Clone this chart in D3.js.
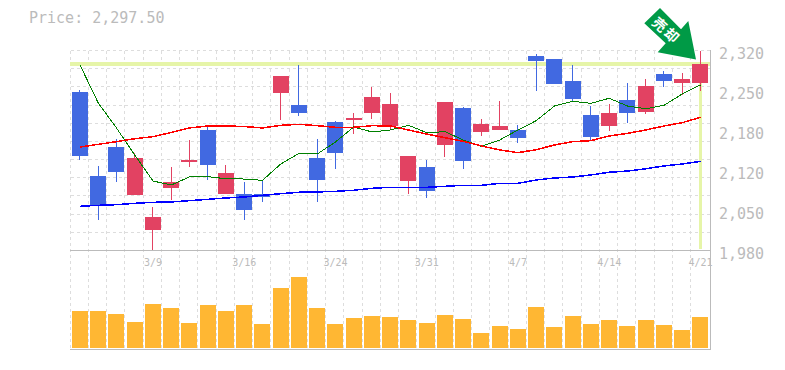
<!DOCTYPE html>
<html>
<head>
<meta charset="utf-8">
<script src="https://cdn.jsdelivr.net/npm/d3@7"></script>
<style>
html, body { margin: 0; padding: 0; background: #fff; }
svg { display: block; }
text { font-family: "DejaVu Sans Mono", monospace; fill: #bbb; }
.grid line { stroke: #ddd; stroke-dasharray: 3 3; shape-rendering: crispEdges; }
.ma { fill: none; shape-rendering: crispEdges; }
</style>
</head>
<body>
<div id="chart"></div>
<script>
const ancho = 785
const alto = 370

const dates = ["3/3","3/4","3/7","3/8","3/9","3/10","3/11","3/14","3/15","3/16","3/17","3/18","3/22","3/23","3/24","3/25","3/28","3/29","3/30","3/31","4/1","4/4","4/5","4/6","4/7","4/8","4/11","4/12","4/13","4/14","4/15","4/18","4/19","4/20","4/21"]
const dateTicks = ["3/9","3/16","3/24","3/31","4/7","4/14","4/21"]
const priceTicks = [2320, 2252, 2184, 2116, 2048, 1980]
const lastPrice = 2297.5

const opens = [2249.4,2106.7,2156,2074.4,2014.9,2086.3,2130.5,2184.9,2076,2076,2076,2247.8,2227.4,2137.3,2198.5,2201.9,2213.8,2191.7,2098.1,2122,2159.4,2222.2,2181.5,2184.9,2184.9,2310.6,2305.6,2268.2,2210.4,2191.7,2235.9,2215.4,2280,2264.8,2264.8]
const highs = [2252.3,2123.7,2169.6,2145.2,2054,2122,2167.9,2191.6,2125.4,2096.5,2099.9,2276.6,2295.4,2169.6,2200.2,2213.8,2258,2247.8,2140.7,2133.9,2232.5,2224,2203.6,2234.1,2193.4,2314,2305.6,2295.4,2225.6,2229,2264.8,2271.6,2285.1,2281.8,2319.2]
const lows = [2133.9,2031.9,2096.5,2074.4,1980.9,2065.9,2122,2099.9,2076,2031.9,2062.5,2201.9,2208.7,2062.5,2118.6,2178,2203.6,2184.9,2076,2069.3,2139,2118.6,2174.7,2184.9,2162.8,2251.2,2263,2232.5,2166.2,2183,2196.8,2212,2258,2244.4,2251.2]
const closes = [2141.2,2055.7,2113.5,2137.3,2037,2096.5,2133.9,2125.4,2111.8,2048.9,2070.9,2276.6,2213.8,2099.9,2145.8,2205.3,2241,2229,2140.7,2081.2,2232.5,2132.2,2195,2191.7,2171.3,2302.2,2263,2237.6,2173,2213.8,2213.8,2259.7,2268.2,2271.6,2297.5]

const maGreen = [2295.4,2230.8,2188.3,2142.4,2098.1,2091.4,2105,2105.5,2102,2101.5,2099.3,2127,2145.2,2144,2164.5,2190,2181.5,2184.9,2192.8,2180.3,2182,2167.9,2157.1,2167.9,2184.9,2200.7,2225.6,2233.6,2230.2,2238.8,2225.6,2221,2226.8,2246,2261.4]
const maRed = [2155.9,2160.5,2165,2170,2173.5,2180.6,2188.3,2191.7,2191.7,2190.8,2188.3,2192.8,2194.5,2192.2,2189.4,2189.4,2192.2,2191.7,2184.9,2178,2171.8,2165.6,2157.7,2150.9,2146.3,2151.4,2159.4,2165,2166.7,2174.7,2179.2,2184.9,2191.7,2197.3,2206.4]
const maBlue = [2055.1,2056.8,2057.9,2060.2,2061.9,2062.5,2064.7,2067,2069.3,2071,2073.8,2076.6,2079,2079.5,2080.6,2082.4,2085.7,2087.4,2087.4,2087.4,2089.1,2090.8,2090.8,2094.2,2094.2,2099.9,2103.3,2105,2108.4,2113,2115.1,2119,2123.7,2127.1,2131.6]

const volumes = [36.7,36.7,33.7,25.7,43.7,39.7,24.7,42.7,36.7,42.7,23.7,59.7,70.7,39.7,23.7,29.7,31.7,30.7,27.7,24.7,32.7,28.7,14.7,21.7,18.7,40.7,20.7,31.7,23.7,27.7,21.7,27.7,22.7,17.7,30.7]

const colorUp = "#e24262"
const colorDown = "#4169e1"

const svg = d3.select("#chart").append("svg").attr("width", ancho).attr("height", alto)

const x = d3.scaleBand().domain(dates).range([70.86, 709.61])
const y = d3.scaleLinear().domain([1980, 2320]).range([250.5, 50.5])
const yVol = d3.scaleLinear().domain([0, 100]).range([348, 248])
const yGrid = d3.range(12).map(i => 50.5 + i * 200 / 11)
const center = d => x(d) + x.bandwidth() / 2
const gridX = d => Math.floor(x(d) - 0.7) + 0.5

// rejilla
const grid = svg.append("g").attr("class", "grid")
grid.selectAll(".gx").data(dates).join("line").attr("class", "gx")
    .attr("x1", gridX).attr("x2", gridX).attr("y1", 50.5).attr("y2", 350)
grid.selectAll(".gy").data(yGrid.slice(0, -1)).join("line").attr("class", "gy")
    .attr("x1", 70.5).attr("x2", 710).attr("y1", d => d).attr("y2", d => d)

// marcas del ultimo precio
svg.append("line").attr("x1", 70).attr("x2", 710).attr("y1", y(lastPrice)).attr("y2", y(lastPrice))
    .attr("stroke", "#e6f5a8").attr("stroke-width", 4).attr("shape-rendering", "crispEdges")
svg.append("line").attr("x1", center(dates[34])).attr("x2", center(dates[34])).attr("y1", y(lastPrice)).attr("y2", 249)
    .attr("stroke", "#e6f5a8").attr("stroke-width", 3).attr("shape-rendering", "crispEdges")

// bordes
const borde = svg.append("g").attr("stroke", "#bbb").attr("shape-rendering", "crispEdges")
borde.append("line").attr("x1", 70).attr("x2", 710).attr("y1", 250.5).attr("y2", 250.5)
borde.append("line").attr("x1", 70).attr("x2", 710.5).attr("y1", 349.5).attr("y2", 349.5)
borde.append("line").attr("x1", 710.5).attr("x2", 710.5).attr("y1", 50).attr("y2", 350)

// velas
const velas = svg.append("g").selectAll("g").data(dates).join("g")
velas.append("line")
    .attr("x1", d => center(d)).attr("x2", d => center(d))
    .attr("y1", (d, i) => y(highs[i])).attr("y2", (d, i) => y(lows[i]))
    .attr("stroke", (d, i) => closes[i] >= opens[i] ? colorUp : colorDown)
    .attr("stroke-width", 1).attr("shape-rendering", "crispEdges")
velas.append("rect")
    .attr("x", d => center(d) - 8).attr("width", 16)
    .attr("y", (d, i) => y(Math.max(opens[i], closes[i])))
    .attr("height", (d, i) => Math.abs(y(opens[i]) - y(closes[i])))
    .attr("fill", (d, i) => closes[i] >= opens[i] ? colorUp : colorDown)
    .attr("shape-rendering", "crispEdges")

// medias
const linea = d3.line().x((d, i) => center(dates[i])).y(d => y(d))
svg.append("path").attr("class", "ma").attr("stroke", "#008000").attr("stroke-width", 1).attr("d", linea(maGreen))
svg.append("path").attr("class", "ma").attr("stroke", "#ff0000").attr("stroke-width", 1.5).attr("d", linea(maRed))
svg.append("path").attr("class", "ma").attr("stroke", "#0000ff").attr("stroke-width", 1.5).attr("d", linea(maBlue))

// volumen
svg.append("g").selectAll("rect").data(volumes).join("rect")
    .attr("x", (d, i) => center(dates[i]) - 8).attr("width", 16)
    .attr("y", d => yVol(d)).attr("height", d => yVol(0) - yVol(d))
    .attr("fill", "#ffb733").attr("shape-rendering", "crispEdges")

// ejes
const ejeY = d3.axisRight(y).tickValues(priceTicks).tickSize(0).tickPadding(9)
    .tickFormat(d => d3.format(",")(Math.round(d / 10) * 10))
const grupoY = svg.append("g").attr("transform", "translate(710,0)").call(ejeY)
grupoY.select(".domain").remove()
grupoY.selectAll("text").attr("font-size", 15).attr("dy", "0.55em")

const ejeX = d3.axisBottom(x).tickValues(dateTicks).tickSize(0)
const grupoX = svg.append("g").attr("transform", "translate(0,250)").call(ejeX)
grupoX.select(".domain").remove()
grupoX.selectAll("text").attr("font-size", 10).attr("y", 16).attr("dy", 0)

grupoY.attr("font-family", null)
grupoX.attr("font-family", null)

svg.append("text").attr("x", 29).attr("y", 23).attr("font-size", 15)
    .text("Price: " + d3.format(",.2f")(lastPrice))

// flecha
svg.append("path").attr("d", "M660,8L644.3,23.3L665.7,43.3L657.7,52.3L696,59.5L688.3,21L681,29.3Z").attr("fill", "#009a46")
svg.append("text").attr("transform", "translate(667,30) rotate(42)")
    .attr("text-anchor", "middle").attr("dominant-baseline", "central")
    .attr("font-size", 14).attr("font-weight", "bold").attr("letter-spacing", 2)
    .style("font-family", '"Noto Sans CJK JP"').style("fill", "#fff")
    .text("売却")
</script>
</body>
</html>
